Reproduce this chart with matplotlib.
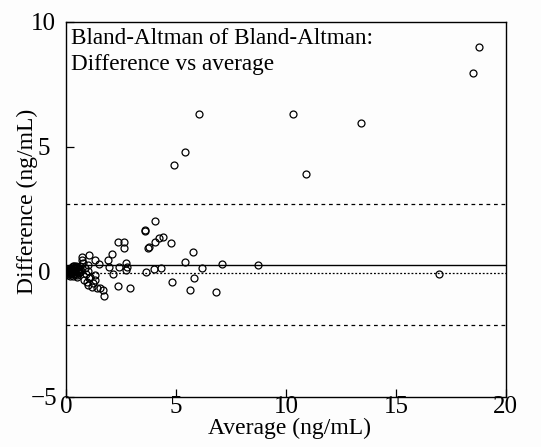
import matplotlib.pyplot as plt

# Average (ng/mL) and difference (ng/mL)
avg = [18.77, 18.52, 6.06, 10.34, 13.40, 5.39, 4.89, 10.92, 4.03, 3.59, 3.58,
       4.39, 4.24, 4.03, 4.77, 3.72, 3.77, 2.35, 2.65, 2.63, 5.77, 2.09, 1.89,
       5.39, 2.71, 2.79, 2.74, 2.42, 1.97, 2.13, 7.09, 8.72, 6.19, 4.31, 3.98,
       3.66, 5.84, 4.81, 2.35, 2.89, 5.66, 6.81, 16.97, 1.73, 1.67, 1.56, 1.42,
       1.50, 1.33, 1.06, 0.71, 0.73, 0.79, 0.98, 1.00, 1.30, 1.30, 1.11, 0.97,
       0.98, 1.18, 0.80, 1.25, 1.05, 0.90, 0.85, 0.62, 0.55, 0.45,
       0.05, 0.08, 0.10, 0.12, 0.15, 0.18, 0.20, 0.22, 0.25, 0.28, 0.30, 0.33,
       0.35, 0.38, 0.40, 0.42, 0.45, 0.48, 0.50, 0.55, 0.58, 0.60, 0.65, 0.70,
       0.10, 0.14, 0.20, 0.26, 0.32, 0.36, 0.44, 0.52, 0.30, 0.25, 0.18, 0.40]
diff = [8.98, 7.97, 6.31, 6.31, 5.96, 4.78, 4.26, 3.90, 2.02, 1.66, 1.64,
        1.41, 1.34, 1.20, 1.14, 0.96, 1.00, 1.20, 1.18, 0.97, 0.80, 0.72, 0.48,
        0.41, 0.36, 0.21, 0.09, 0.21, 0.21, -0.07, 0.32, 0.27, 0.16, 0.15, 0.11,
        -0.01, -0.23, -0.40, -0.56, -0.65, -0.71, -0.80, -0.08, -0.97, -0.71, -0.64, -0.64,
        0.32, 0.47, 0.68, 0.61, 0.47, 0.36, 0.28, 0.03, -0.13, -0.31, -0.20, -0.41,
        -0.53, -0.60, -0.31, -0.45, -0.25, -0.10, 0.15, 0.25, 0.05, 0.22,
        0.00, -0.05, 0.05, -0.02, 0.08, -0.08, 0.02, 0.10, -0.05, 0.12, 0.00, -0.10,
        0.15, 0.05, -0.03, 0.18, 0.08, -0.12, 0.20, 0.10, -0.05, 0.00, 0.12, 0.05,
        -0.12, 0.12, -0.15, 0.18, -0.18, 0.22, -0.10, -0.20, 0.25, -0.02, 0.03, 0.03]

mean_diff = 0.27
zero_line = -0.03
upper_loa = 2.73
lower_loa = -2.14

plt.rcParams['font.family'] = ['Liberation Serif', 'DejaVu Serif']

fig = plt.figure(figsize=(5.41, 4.47), dpi=100, facecolor='#fdfdfd')
ax = fig.add_axes([0.122, 0.112, 0.813, 0.839])
ax.set_facecolor('#fdfdfd')

ax.plot(avg, diff, 'o', mfc='none', mec='k', ms=5, mew=0.9, zorder=3)
ax.axhline(mean_diff, color='k', lw=1.0)
ax.axhline(zero_line, color='k', lw=0.9, ls=(0, (1.5, 1.5)))
ax.axhline(upper_loa, color='k', lw=0.9, ls=(0, (3, 3)))
ax.axhline(lower_loa, color='k', lw=0.9, ls=(0, (3, 3)))

ax.set_xlim(0, 20)
ax.set_ylim(-5, 10)
ax.set_xticks([0, 5, 10, 15, 20])
ax.set_yticks([-5, 0, 5, 10])
ax.set_yticklabels(['\u22125', '0', '5', '10'], ha='center')
ax.tick_params(direction='in', length=6, width=0.9, labelsize=18)
ax.tick_params(axis='x', pad=-1)
ax.tick_params(axis='y', pad=16)
for s in ax.spines.values():
    s.set_linewidth(1.0)

ax.set_xlabel('Average (ng/mL)', fontsize=17)
ax.set_ylabel('Difference (ng/mL)', fontsize=17)
ax.xaxis.set_label_coords(0.508, -0.056)
ax.yaxis.set_label_coords(-0.064, 0.521)

ax.text(0.012, 0.985, 'Bland-Altman of Bland-Altman:\nDifference vs average',
        transform=ax.transAxes, ha='left', va='top', fontsize=16.7,
        linespacing=1.35)

fig.savefig('out.png', dpi=100, facecolor=fig.get_facecolor())
